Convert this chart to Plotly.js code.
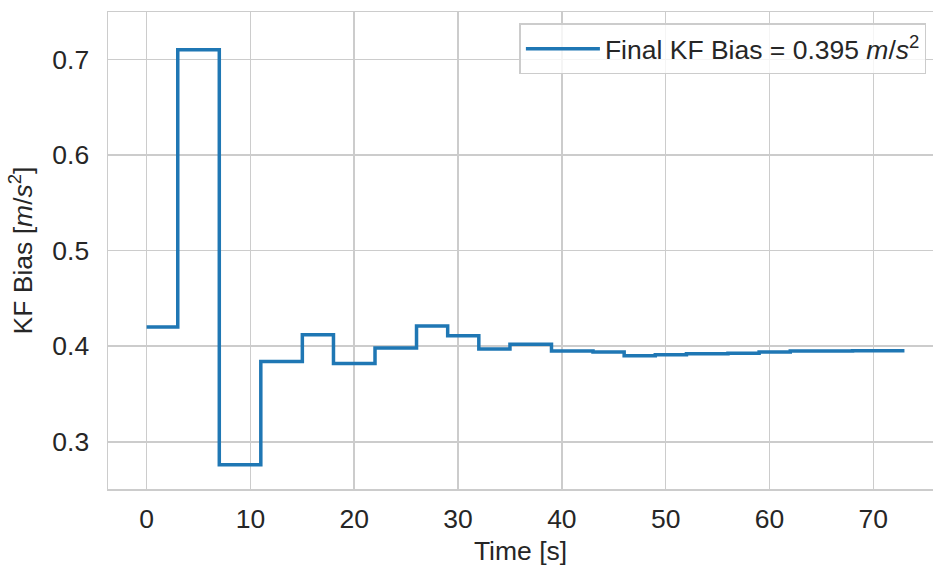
<!DOCTYPE html>
<html>
<head>
<meta charset="utf-8">
<script src="https://cdn.plot.ly/plotly-3.0.1.min.js"></script>
<style>
html,body{margin:0;padding:0;background:#fff;}
#chart{width:933px;height:566px;}
</style>
</head>
<body>
<div id="chart"></div>
<script>
// Step times (s) and KF bias values (m/s^2), held until next time
const stepTimes = [0, 3, 7, 11, 15, 18, 22, 26, 29, 32, 35, 39, 43, 46, 49, 52, 56, 59, 62, 65, 68, 73];
const biasValues = [0.420, 0.710, 0.276, 0.384, 0.412, 0.382, 0.398, 0.421, 0.411, 0.397, 0.402, 0.395, 0.394, 0.390, 0.391, 0.392, 0.3925, 0.394, 0.395, 0.395, 0.3952, 0.3952];
const xTicks = [0, 10, 20, 30, 40, 50, 60, 70];
const yTicks = [0.3, 0.4, 0.5, 0.6, 0.7];
const seriesName = 'Final KF Bias = 0.395 <i>m</i>/<i>s</i><sup>2</sup>';

const textColor = '#262626';
const gridColor = '#cccccc';
const fontFamily = 'Liberation Sans, Arial, sans-serif';
const fs = 26.5;

const trace = {
  x: stepTimes,
  y: biasValues,
  type: 'scatter',
  mode: 'lines',
  line: {shape: 'hv', color: '#1f77b4', width: 3.5},
  name: seriesName,
  showlegend: true
};

const layout = {
  width: 933,
  height: 566,
  margin: {l: 108, r: 0, t: 12, b: 76.5},
  paper_bgcolor: '#ffffff',
  plot_bgcolor: '#ffffff',
  font: {family: fontFamily, color: textColor, size: fs},
  xaxis: {
    range: [-3.72, 75.75],
    tickvals: xTicks,
    ticktext: xTicks.map(String),
    showgrid: true,
    gridcolor: gridColor,
    gridwidth: 1.5,
    zeroline: false,
    showline: true,
    linecolor: gridColor,
    linewidth: 1.5,
    mirror: true,
    ticks: 'outside',
    ticklen: 6,
    tickcolor: 'rgba(0,0,0,0)',
    tickfont: {size: fs, color: textColor},
    title: {text: 'Time [s]', font: {size: fs, color: textColor}, standoff: 10}
  },
  yaxis: {
    range: [0.2507, 0.7494],
    tickvals: yTicks,
    ticktext: yTicks.map(v => v.toFixed(1)),
    showgrid: true,
    gridcolor: gridColor,
    gridwidth: 1.5,
    zeroline: false,
    showline: true,
    linecolor: gridColor,
    linewidth: 1.5,
    mirror: true,
    ticks: 'outside',
    ticklen: 12,
    tickcolor: 'rgba(0,0,0,0)',
    tickfont: {size: fs, color: textColor},
    title: {text: 'KF Bias [<i>m</i>/<i>s</i><sup>2</sup>]', font: {size: fs, color: textColor}, standoff: 12}
  },
  legend: {
    x: 0.992,
    y: 0.976,
    xanchor: 'right',
    yanchor: 'top',
    bgcolor: 'rgba(255,255,255,0.8)',
    bordercolor: gridColor,
    borderwidth: 1.5,
    font: {size: fs, color: textColor},
    itemwidth: 74
  },
  showlegend: true
};

Plotly.newPlot('chart', [trace], layout, {displayModeBar: false, staticPlot: true});
</script>
</body>
</html>
